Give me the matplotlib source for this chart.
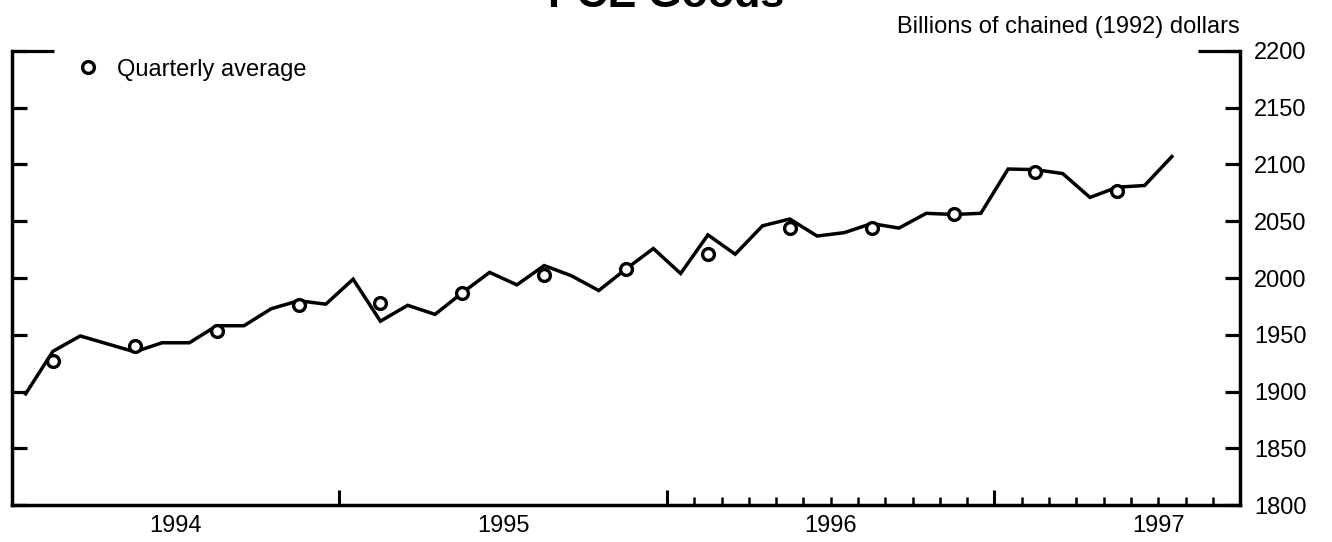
import matplotlib
matplotlib.use("Agg")
import matplotlib.pyplot as plt
import numpy as np
from matplotlib.lines import Line2D

# monthly PCE goods, Jan 1994 - Jul 1997 (billions of chained 1992 dollars)
monthly = [1898, 1935.5, 1949, 1942, 1935, 1943, 1943, 1958, 1958, 1973, 1980, 1977,
           1999, 1962, 1976, 1968, 1987, 2005, 1994, 2011, 2002, 1989, 2008, 2026,
           2004, 2038, 2021, 2046, 2052, 2037, 2040, 2048, 2044, 2057, 2056, 2057,
           2096, 2095.5, 2092, 2071, 2080, 2081.5, 2107]
# quarterly averages, 1994Q1 - 1997Q2
quarterly = [1927, 1940, 1953, 1976, 1978, 1987, 2003, 2008,
             2021.5, 2044, 2044, 2056, 2093, 2077]
years = [1994, 1995, 1996, 1997]
start_year = 1994
y_ticks = [1800, 1850, 1900, 1950, 2000, 2050, 2100, 2150, 2200]

x_month = start_year + (np.arange(len(monthly)) + 0.5) / 12
x_quarter = start_year + (np.arange(len(quarterly)) * 3 + 1.5) / 12

plt.rcParams['font.family'] = ['Liberation Sans', 'DejaVu Sans']
fig = plt.figure(figsize=(13.32, 5.42), dpi=100)
ax = fig.add_axes([0.009, 0.068, 0.922, 0.838])

ax.plot(x_month, monthly, color='black', lw=2.5, solid_joinstyle='miter', zorder=2)
ax.plot(x_quarter, quarterly, ls='none', marker='o', ms=8.5, mfc='white',
        mec='black', mew=2.4, zorder=3)

ax.set_xlim(1994, 1997.75)
ax.set_ylim(1800, 2200)

for s in ['left', 'right', 'bottom']:
    ax.spines[s].set_linewidth(2.5)
ax.spines['top'].set_visible(False)

# y ticks inward on both sides, labels on the right
ax.set_yticks(y_ticks)
ax.yaxis.set_ticks_position('both')
ax.tick_params(axis='y', direction='in', length=11, width=2.3, labelleft=False,
               labelright=True, labelsize=17, pad=10)

# x: year boundaries as major ticks, month ticks from 1996 on
ax.set_xticks(years[1:], labels=[])
ax.set_xticks(np.arange(1996, 1997.75, 1 / 12), minor=True)
ax.tick_params(axis='x', which='major', direction='in', length=10.5, width=2.2)
ax.tick_params(axis='x', which='minor', direction='in', length=6, width=1.8)

sec = ax.secondary_xaxis('bottom')
sec.set_xticks([y + 0.5 for y in years], labels=[str(y) for y in years])
sec.tick_params(length=0, labelsize=17, pad=7)
sec.spines['bottom'].set_visible(False)

# long corner ticks at 2200
for side in ['left', 'right']:
    corner = ax.secondary_yaxis(side)
    corner.set_yticks([2200], labels=[])
    corner.tick_params(direction='in', length=30, width=2.3)
    corner.spines[side].set_visible(False)

handle = Line2D([], [], ls='none', marker='o', ms=8.5, mfc='white', mec='black', mew=2.4)
ax.legend([handle], ['Quarterly average'], loc='upper left', bbox_to_anchor=(0.025, 1.03),
          frameon=False, fontsize=17, handletextpad=0.25)

fig.text(0.931, 0.95, 'Billions of chained (1992) dollars', ha='right', va='center',
         fontsize=17)
fig.text(0.5, 0.988, 'PCE Goods', ha='center', va='baseline', fontsize=31, fontweight='bold')

fig.savefig('out.png', dpi=100)
